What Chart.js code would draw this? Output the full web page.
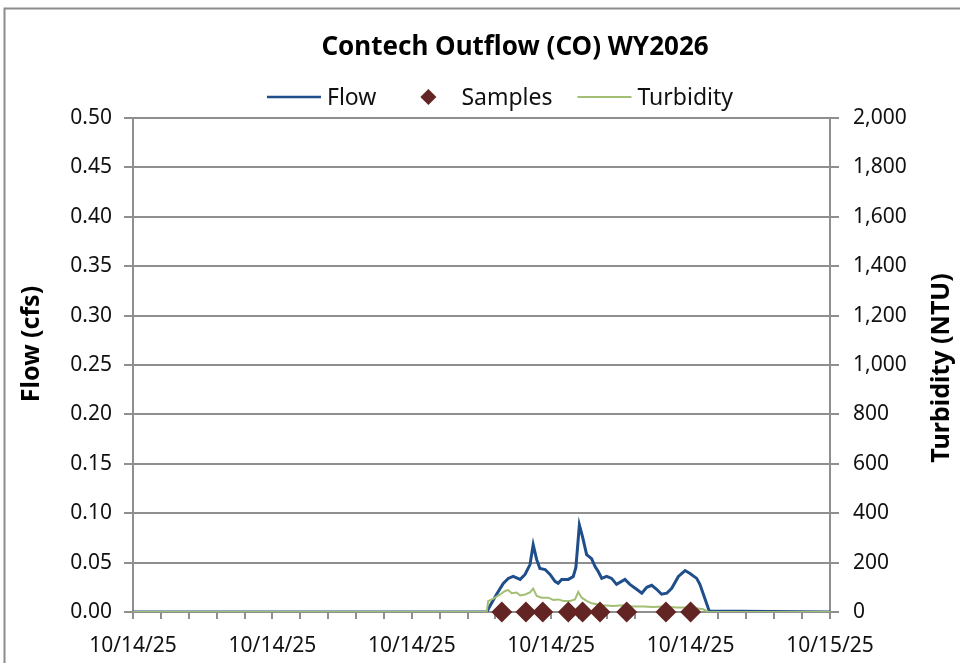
<!DOCTYPE html>
<html>
<head>
<meta charset="utf-8">
<script src="https://cdn.jsdelivr.net/npm/chart.js@4.4.1/dist/chart.umd.min.js"></script>
<style>
  html, body { margin: 0; padding: 0; background: #ffffff; }
  #wrap { position: relative; width: 960px; height: 663px; }
</style>
</head>
<body>
<div id="wrap"><canvas id="c"></canvas></div>
<script>
// ---- data (x in hours after 10/14/25 00:00) ----
const chartTitle = 'Contech Outflow (CO) WY2026';
const leftAxisTitle = 'Flow (cfs)';
const rightAxisTitle = 'Turbidity (NTU)';
const xTickLabels = ['10/14/25', '10/14/25', '10/14/25', '10/14/25', '10/14/25', '10/15/25'];

const flowHours = [0, 12.18, 12.29, 12.52, 12.75, 12.92, 13.09, 13.33, 13.50, 13.67, 13.78, 13.90, 14.01, 14.19, 14.36, 14.53, 14.64, 14.76, 14.99, 15.16, 15.25, 15.37, 15.48, 15.62, 15.79, 15.91, 16.02, 16.14, 16.31, 16.48, 16.65, 16.94, 17.11, 17.34, 17.52, 17.69, 17.86, 18.03, 18.20, 18.38, 18.55, 18.78, 19.01, 19.18, 19.41, 19.52, 19.70, 19.84, 24];
const flowValues = [0, 0, 0.006, 0.018, 0.029, 0.034, 0.036, 0.033, 0.038, 0.048, 0.068, 0.053, 0.044, 0.043, 0.038, 0.031, 0.029, 0.033, 0.033, 0.036, 0.045, 0.088, 0.076, 0.058, 0.054, 0.046, 0.041, 0.034, 0.036, 0.034, 0.028, 0.033, 0.028, 0.023, 0.019, 0.025, 0.027, 0.023, 0.018, 0.019, 0.024, 0.036, 0.042, 0.039, 0.034, 0.028, 0.013, 0.001, 0];

const turbHours = [0, 12.18, 12.23, 12.41, 12.64, 12.81, 12.92, 13.04, 13.21, 13.33, 13.50, 13.67, 13.78, 13.90, 14.07, 14.30, 14.47, 14.64, 14.82, 15.05, 15.22, 15.33, 15.45, 15.62, 15.79, 15.97, 16.19, 16.54, 16.88, 17.23, 17.57, 17.91, 18.26, 18.72, 19.18, 19.64, 19.81, 24];
const turbValues = [0, 0, 44, 54, 71, 85, 89, 76, 79, 67, 71, 79, 95, 65, 58, 58, 49, 51, 45, 45, 51, 81, 58, 45, 35, 31, 27, 24, 27, 22, 22, 20, 22, 18, 18, 11, 0, 0];

const sampleHours = [12.70, 13.53, 14.11, 14.99, 15.48, 16.08, 17.00, 18.35, 19.20];
const sampleValues = [0, 0, 0, 0, 0, 0, 0, 0, 0];

const seriesNames = ['Flow', 'Samples', 'Turbidity'];
const flowColor = '#1f4e8a';
const turbColor = '#a3bf74';
const sampleColor = '#632523';
const gridColor = '#8f8f8f';
const FONT = "'Noto Sans', 'Open Sans', sans-serif";

const toPts = (xs, ys) => xs.map((x, i) => ({ x: x, y: ys[i] }));

// chart frame border (extends beyond the window like the reference)
const framePlugin = {
  id: 'frame',
  beforeDraw(chart) {
    const ctx = chart.ctx;
    ctx.save();
    ctx.strokeStyle = '#8c8c8c';
    ctx.lineWidth = 2;
    ctx.beginPath();
    ctx.moveTo(4.5, chart.height + 5);
    ctx.lineTo(4.5, 8.5);
    ctx.lineTo(chart.width + 5, 8.5);
    ctx.stroke();
    ctx.restore();
  }
};

// chart title and axis titles (axis titles read bottom-to-top as in the reference)
const titlesPlugin = {
  id: 'titles',
  afterDraw(chart) {
    const ctx = chart.ctx;
    const ca = chart.chartArea;
    const mid = (ca.top + ca.bottom) / 2;
    ctx.save();
    ctx.font = 'bold 26px ' + FONT;
    ctx.fillStyle = '#000';
    ctx.textAlign = 'center';
    ctx.textBaseline = 'middle';
    ctx.fillText(chartTitle, 515, 48);
    ctx.restore();
    const draw = (text, x, y) => {
      ctx.save();
      ctx.translate(x, y);
      ctx.rotate(-Math.PI / 2);
      ctx.font = 'bold 25px ' + FONT;
      ctx.fillStyle = '#000';
      ctx.textAlign = 'center';
      ctx.textBaseline = 'middle';
      ctx.fillText(text, 0, 0);
      ctx.restore();
    };
    draw(leftAxisTitle, 32, mid - 21);
    draw(rightAxisTitle, chart.width - 18, mid + 3);
  }
};

// legend drawn with the chart's own datasets' styles
const legendPlugin = {
  id: 'customLegend',
  afterDraw(chart) {
    const ctx = chart.ctx;
    ctx.save();
    ctx.font = '23px ' + FONT;
    ctx.textBaseline = 'middle';
    const sym = 54, gap = 6, between = 25;
    const items = chart.data.datasets;
    let total = 0;
    items.forEach((d, k) => {
      total += sym + gap + ctx.measureText(d.label).width;
      if (k < items.length - 1) total += between;
    });
    let x = 500 - total / 2;
    const y = 97;
    items.forEach(d => {
      if (d.showLine === false) {
        const cx = x + sym / 2, r = 8;
        ctx.fillStyle = d.backgroundColor;
        ctx.beginPath();
        ctx.moveTo(cx, y - r); ctx.lineTo(cx + r, y); ctx.lineTo(cx, y + r); ctx.lineTo(cx - r, y);
        ctx.closePath();
        ctx.fill();
      } else {
        ctx.strokeStyle = d.borderColor;
        ctx.lineWidth = Math.min(d.borderWidth, 2.5);
        ctx.beginPath();
        ctx.moveTo(x, y); ctx.lineTo(x + sym, y);
        ctx.stroke();
      }
      x += sym + gap;
      ctx.fillStyle = '#111';
      ctx.fillText(d.label, x, y + 1);
      x += ctx.measureText(d.label).width + between;
    });
    ctx.restore();
  }
};

new Chart(document.getElementById('c'), {
  type: 'line',
  data: {
    datasets: [
      {
        label: seriesNames[0],
        data: toPts(flowHours, flowValues),
        yAxisID: 'y',
        borderColor: flowColor,
        backgroundColor: flowColor,
        borderWidth: 3,
        pointRadius: 0,
        tension: 0,
        order: 3
      },
      {
        label: seriesNames[1],
        data: toPts(sampleHours, sampleValues),
        yAxisID: 'y',
        showLine: false,
        pointStyle: 'rectRot',
        pointRadius: 10.5,
        borderWidth: 0,
        borderColor: sampleColor,
        backgroundColor: sampleColor,
        clip: false,
        order: 1
      },
      {
        label: seriesNames[2],
        data: toPts(turbHours, turbValues),
        yAxisID: 'y1',
        borderColor: turbColor,
        backgroundColor: turbColor,
        borderWidth: 2,
        pointRadius: 0,
        tension: 0,
        order: 2
      }
    ]
  },
  options: {
    responsive: true,
    maintainAspectRatio: false,
    animation: false,
    layout: { padding: { top: 118, left: 0, right: 0, bottom: 0 } },
    plugins: {
      legend: { display: false },
      tooltip: { enabled: false },
      title: { display: false }
    },
    scales: {
      x: {
        type: 'linear',
        position: 'bottom',
        min: 0,
        max: 24,
        afterFit(s) { s.height = 51; },
        ticks: {
          stepSize: 0.96,
          autoSkip: false,
          maxRotation: 0,
          minRotation: 0,
          padding: 14,
          color: '#111',
          font: { family: FONT, size: 21 },
          callback: (v, i) => (i % 5 === 0 ? xTickLabels[i / 5] : '')
        },
        grid: { drawOnChartArea: false, drawTicks: true, tickLength: 7, color: gridColor, lineWidth: 2 },
        border: { display: true, color: gridColor, width: 2 }
      },
      y: {
        type: 'linear',
        position: 'left',
        min: 0,
        max: 0.5,
        afterFit(s) { s.width = 133; },
        ticks: {
          stepSize: 0.05,
          padding: 12,
          color: '#111',
          font: { family: FONT, size: 21 },
          callback: v => v.toFixed(2)
        },
        grid: { color: gridColor, lineWidth: 2, tickLength: 9 },
        border: { display: true, color: gridColor, width: 2 }
      },
      y1: {
        type: 'linear',
        position: 'right',
        min: 0,
        max: 2000,
        afterFit(s) { s.width = 130; },
        ticks: {
          stepSize: 200,
          padding: 14,
          color: '#111',
          font: { family: FONT, size: 21 },
          callback: v => v.toLocaleString('en-US')
        },
        grid: { drawOnChartArea: false, color: gridColor, lineWidth: 2, tickLength: 9 },
        border: { display: true, color: gridColor, width: 2 }
      }
    }
  },
  plugins: [framePlugin, legendPlugin, titlesPlugin]
});
</script>
</body>
</html>
